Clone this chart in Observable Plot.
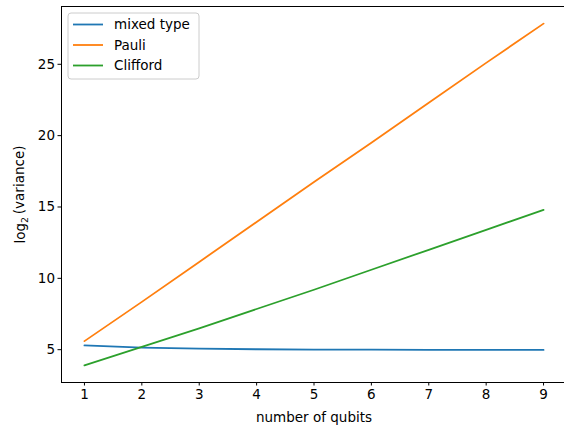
<!DOCTYPE html>
<html>
<head>
<meta charset="utf-8">
<script src="https://cdn.jsdelivr.net/npm/d3@7"></script>
<script src="https://cdn.jsdelivr.net/npm/@observablehq/plot@0.6"></script>
<style>
  body { margin: 0; background: #fff; }
  svg { font-family: "DejaVu Sans", sans-serif; }
</style>
</head>
<body>
<div id="chart"></div>
<script>
const qubits = [1, 2, 3, 4, 5, 6, 7, 8, 9];
const mixedType = [5.3, 5.15, 5.07, 5.03, 5.01, 5.0, 4.99, 4.98, 4.98];
const pauli = [5.6, 8.35, 11.15, 13.95, 16.75, 19.5, 22.3, 25.1, 27.85];
const clifford = [3.9, 5.2, 6.5, 7.85, 9.2, 10.6, 12.0, 13.4, 14.8];
const seriesNames = ["mixed type", "Pauli", "Clifford"];
const seriesColors = ["#1f77b4", "#ff7f0e", "#2ca02c"];
const xTicks = [1, 2, 3, 4, 5, 6, 7, 8, 9];
const yTicks = [5, 10, 15, 20, 25];

const seriesValues = [mixedType, pauli, clifford];
const data = [];
seriesNames.forEach((name, s) => {
  qubits.forEach((q, i) => data.push({ series: name, n: q, v: seriesValues[s][i] }));
});

const FS = 13.5;
const chart = Plot.plot({
  width: 564,
  height: 425,
  marginLeft: 61,
  marginRight: -2,
  marginTop: 6,
  marginBottom: 43,
  style: { fontFamily: "DejaVu Sans, sans-serif", fontSize: FS + "px", color: "#000", background: "#fff" },
  x: { domain: [0.6, 9.4] },
  y: { domain: [2.7, 29.05] },
  color: { domain: seriesNames, range: seriesColors },
  marks: [
    Plot.axisX({ ticks: xTicks, tickSize: 3.5, tickPadding: 3, tickFormat: d3.format("d"),
      label: "number of qubits", labelAnchor: "center", labelArrow: "none", labelOffset: 39, fontSize: FS }),
    Plot.axisY({ ticks: yTicks, tickSize: 3.5, tickPadding: 3, tickFormat: d3.format("d"),
      label: "log2 (variance)", labelAnchor: "center", labelArrow: "none", labelOffset: 46, fontSize: FS }),
    Plot.line(data, { x: "n", y: "v", stroke: "series", z: "series", strokeWidth: 1.8 }),
    Plot.frame({ stroke: "#000", strokeWidth: 1 })
  ]
});
document.getElementById("chart").appendChild(chart);

const svg = d3.select(chart);
// real subscript for the y label
svg.selectAll("text").filter(function () { return this.textContent === "log2 (variance)"; })
  .each(function () {
    const t = d3.select(this);
    t.text(null);
    t.append("tspan").text("log");
    t.append("tspan").attr("font-size", FS * 0.7).attr("dy", "0.3em").text("2");
    t.append("tspan").attr("dy", "-0.3em").text("\u2009(variance)");
  });

// legend (matplotlib-style, upper left inside axes)
const lg = svg.append("g").attr("transform", "translate(68,13)").attr("text-anchor", "start");
lg.append("rect").attr("x", 0).attr("y", 0).attr("width", 131).attr("height", 66)
  .attr("rx", 3).attr("fill", "#fff").attr("fill-opacity", 0.8).attr("stroke", "#ccc");
seriesNames.forEach((name, i) => {
  const y = 11.5 + i * 20.5;
  lg.append("line").attr("x1", 5).attr("x2", 35).attr("y1", y).attr("y2", y)
    .attr("stroke", seriesColors[i]).attr("stroke-width", 1.8);
  lg.append("text").attr("x", 46).attr("y", y).attr("dy", "0.35em")
    .attr("font-size", FS).attr("fill", "#000").text(name);
});
</script>
</body>
</html>
